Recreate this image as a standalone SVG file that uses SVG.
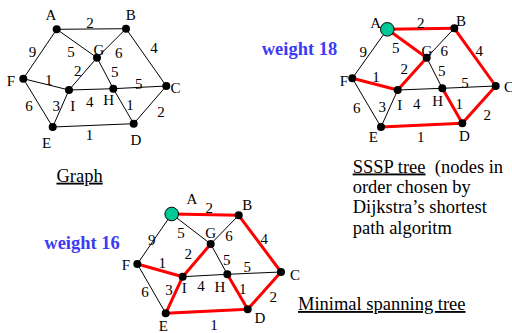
<svg xmlns="http://www.w3.org/2000/svg" width="512" height="333" viewBox="0 0 512 333" font-family="Liberation Serif">
<style>
.e{stroke:#000;stroke-width:1;fill:none}
.r{stroke:#ff0000;stroke-width:3;fill:none;stroke-linecap:round}
.n{fill:#000}
.s{fill:#00c896;stroke:#000;stroke-width:1}
text{font-family:'Liberation Serif',serif;fill:#000}
.l{font-size:15px;text-anchor:middle}
.w{font-size:18.5px;font-weight:bold;fill:#3b3bf5}
.t{font-size:18.5px}
.u{text-decoration:underline}
</style>
<rect width="512" height="333" fill="#fff"/>

<!-- Graph 1 -->
<g id="graph1">
<g id="g1-edges">
<line class="e" x1="56.7" y1="29.3" x2="126" y2="28.7"/>
<line class="e" x1="56.7" y1="29.3" x2="23.3" y2="78.7"/>
<line class="e" x1="56.7" y1="29.3" x2="97" y2="57.7"/>
<line class="e" x1="97" y1="57.7" x2="126" y2="28.7"/>
<line class="e" x1="126" y1="28.7" x2="166.3" y2="86"/>
<line class="e" x1="23.3" y1="78.7" x2="69" y2="90"/>
<line class="e" x1="69" y1="90" x2="97" y2="57.7"/>
<line class="e" x1="97" y1="57.7" x2="113.3" y2="88.7"/>
<line class="e" x1="113.3" y1="88.7" x2="166.3" y2="86"/>
<line class="e" x1="23.3" y1="78.7" x2="52.7" y2="127"/>
<line class="e" x1="52.7" y1="127" x2="69" y2="90"/>
<line class="e" x1="69" y1="90" x2="113.3" y2="88.7"/>
<line class="e" x1="113.3" y1="88.7" x2="133.7" y2="123.7"/>
<line class="e" x1="133.7" y1="123.7" x2="166.3" y2="86"/>
<line class="e" x1="52.7" y1="127" x2="133.7" y2="123.7"/>
</g>
<g id="g1-weights" class="l">
<text x="90" y="28">2</text>
<text x="32.5" y="57">9</text>
<text x="71" y="57">5</text>
<text x="118.7" y="58">6</text>
<text x="154" y="53.3">4</text>
<text x="48.7" y="85">1</text>
<text x="77.8" y="76">2</text>
<text x="114.7" y="76.7">5</text>
<text x="138.8" y="89.3">5</text>
<text x="29" y="111">6</text>
<text x="56.3" y="111">3</text>
<text x="89.7" y="106.7">4</text>
<text x="130" y="110">1</text>
<text x="161" y="116.7">2</text>
<text x="89.5" y="140">1</text>
</g>
<g id="g1-A"><circle class="n" cx="56.7" cy="29.3" r="4"/><text class="l" x="51" y="20">A</text></g>
<g id="g1-B"><circle class="n" cx="126" cy="28.7" r="4"/><text class="l" x="130.7" y="20">B</text></g>
<g id="g1-G"><circle class="n" cx="97" cy="57.7" r="4"/><text class="l" x="99" y="54.5">G</text></g>
<g id="g1-F"><circle class="n" cx="23.3" cy="78.7" r="4"/><text class="l" x="11" y="86">F</text></g>
<g id="g1-I"><circle class="n" cx="69" cy="90" r="4"/><text class="l" x="72.7" y="111">I</text></g>
<g id="g1-H"><circle class="n" cx="113.3" cy="88.7" r="4"/><text class="l" x="108.7" y="105">H</text></g>
<g id="g1-C"><circle class="n" cx="166.3" cy="86" r="4"/><text class="l" x="175.5" y="93">C</text></g>
<g id="g1-E"><circle class="n" cx="52.7" cy="127" r="4"/><text class="l" x="46.7" y="148">E</text></g>
<g id="g1-D"><circle class="n" cx="133.7" cy="123.7" r="4"/><text class="l" x="136" y="145">D</text></g>
</g>
<text class="t u" x="56.5" y="181.7">Graph</text>

<!-- Graph 2: SSSP -->
<g id="graph2">
<g id="g2-edges">
<line class="e" x1="387.3" y1="29.3" x2="352.3" y2="78.3"/>
<line class="e" x1="426.7" y1="57.7" x2="454.3" y2="28.3"/>
<line class="e" x1="426.7" y1="57.7" x2="442.3" y2="88.3"/>
<line class="e" x1="397.7" y1="90" x2="442.3" y2="88.3"/>
<line class="e" x1="442.3" y1="88.3" x2="495.7" y2="86"/>
<line class="e" x1="352.3" y1="78.3" x2="381" y2="127"/>
<line class="e" x1="381" y1="127" x2="397.7" y2="90"/>
<line class="r" x1="387.3" y1="29.3" x2="454.3" y2="28.3"/>
<line class="r" x1="387.3" y1="29.3" x2="426.7" y2="57.7"/>
<line class="r" x1="426.7" y1="57.7" x2="397.7" y2="90"/>
<line class="r" x1="397.7" y1="90" x2="352.3" y2="78.3"/>
<line class="r" x1="454.3" y1="28.3" x2="495.7" y2="86"/>
<line class="r" x1="495.7" y1="86" x2="462.3" y2="123.3"/>
<line class="r" x1="462.3" y1="123.3" x2="381" y2="127"/>
<line class="r" x1="442.3" y1="88.3" x2="462.3" y2="123.3"/>
</g>
<g id="g2-weights" class="l">
<text x="420.7" y="28.3">2</text>
<text x="363.3" y="56.7">9</text>
<text x="395.7" y="53.3">5</text>
<text x="444.3" y="55.7">6</text>
<text x="479.3" y="55.7">4</text>
<text x="376" y="81.7">1</text>
<text x="404.3" y="74.3">2</text>
<text x="441.7" y="76">5</text>
<text x="465" y="88.3">5</text>
<text x="356.7" y="113.3">6</text>
<text x="382.3" y="111.7">3</text>
<text x="416.7" y="109">4</text>
<text x="459.3" y="109">1</text>
<text x="487.3" y="120">2</text>
<text x="420.7" y="141.7">1</text>
</g>
<g id="g2-A"><circle class="s" cx="387.3" cy="29.3" r="6.8"/><text class="l" x="375.7" y="28">A</text></g>
<g id="g2-B"><circle class="n" cx="454.3" cy="28.3" r="4"/><text class="l" x="461" y="25.5">B</text></g>
<g id="g2-G"><circle class="n" cx="426.7" cy="57.7" r="4"/><text class="l" x="427" y="55.5">G</text></g>
<g id="g2-F"><circle class="n" cx="352.3" cy="78.3" r="4"/><text class="l" x="343.8" y="85.5">F</text></g>
<g id="g2-I"><circle class="n" cx="397.7" cy="90" r="4"/><text class="l" x="399.7" y="109.7">I</text></g>
<g id="g2-H"><circle class="n" cx="442.3" cy="88.3" r="4"/><text class="l" x="437.7" y="105.5">H</text></g>
<g id="g2-C"><circle class="n" cx="495.7" cy="86" r="4"/><text class="l" x="509" y="92.3">C</text></g>
<g id="g2-E"><circle class="n" cx="381" cy="127" r="4"/><text class="l" x="373.3" y="142">E</text></g>
<g id="g2-D"><circle class="n" cx="462.3" cy="123.3" r="4"/><text class="l" x="464.3" y="141.3">D</text></g>
</g>
<text class="w" x="261.7" y="55">weight 18</text>
<g id="sssp-caption" class="t">
<text x="352.7" y="172.5" xml:space="preserve"><tspan class="u">SSSP tree</tspan>  (nodes in</text>
<text x="352.7" y="193">order chosen by</text>
<text x="352.7" y="213.3">Dijkstra’s shortest</text>
<text x="352.7" y="233.5">path algoritm</text>
</g>

<!-- Graph 3: MST -->
<g id="graph3">
<g id="g3-edges">
<line class="e" x1="171.7" y1="214" x2="137.3" y2="264"/>
<line class="e" x1="171.7" y1="214" x2="210.7" y2="244"/>
<line class="e" x1="210.7" y1="244" x2="238.7" y2="215.3"/>
<line class="e" x1="210.7" y1="244" x2="227.3" y2="274.3"/>
<line class="e" x1="182.7" y1="276.7" x2="227.3" y2="274.3"/>
<line class="e" x1="227.3" y1="274.3" x2="281" y2="272"/>
<line class="e" x1="137.3" y1="264" x2="165.7" y2="313.3"/>
<line class="r" x1="171.7" y1="214" x2="238.7" y2="215.3"/>
<line class="r" x1="238.7" y1="215.3" x2="281" y2="272"/>
<line class="r" x1="281" y1="272" x2="247.7" y2="309.3"/>
<line class="r" x1="247.7" y1="309.3" x2="165.7" y2="313.3"/>
<line class="r" x1="165.7" y1="313.3" x2="182.7" y2="276.7"/>
<line class="r" x1="182.7" y1="276.7" x2="210.7" y2="244"/>
<line class="r" x1="182.7" y1="276.7" x2="137.3" y2="264"/>
<line class="r" x1="227.3" y1="274.3" x2="247.7" y2="309.3"/>
</g>
<g id="g3-weights" class="l">
<text x="209.3" y="213.3">2</text>
<text x="151.7" y="245">9</text>
<text x="181" y="238.3">5</text>
<text x="229" y="241">6</text>
<text x="264.3" y="243.7">4</text>
<text x="162.3" y="267.7">1</text>
<text x="188.3" y="259.3">2</text>
<text x="226.7" y="265">5</text>
<text x="247.3" y="272.3">5</text>
<text x="145" y="296.7">6</text>
<text x="169" y="295">3</text>
<text x="201" y="290.7">4</text>
<text x="242.7" y="294.3">1</text>
<text x="273.3" y="301.7">2</text>
<text x="214" y="330">1</text>
</g>
<g id="g3-A"><circle class="s" cx="171.7" cy="214" r="6.8"/><text class="l" x="192" y="203.7">A</text></g>
<g id="g3-B"><circle class="n" cx="238.7" cy="215.3" r="4"/><text class="l" x="247.3" y="210">B</text></g>
<g id="g3-G"><circle class="n" cx="210.7" cy="244" r="4"/><text class="l" x="210.7" y="237.7">G</text></g>
<g id="g3-F"><circle class="n" cx="137.3" cy="264" r="4"/><text class="l" x="126" y="270.3">F</text></g>
<g id="g3-I"><circle class="n" cx="182.7" cy="276.7" r="4"/><text class="l" x="184.3" y="293.3">I</text></g>
<g id="g3-H"><circle class="n" cx="227.3" cy="274.3" r="4"/><text class="l" x="220" y="291.7">H</text></g>
<g id="g3-C"><circle class="n" cx="281" cy="272" r="4"/><text class="l" x="295" y="280">C</text></g>
<g id="g3-E"><circle class="n" cx="165.7" cy="313.3" r="4"/><text class="l" x="163.3" y="331">E</text></g>
<g id="g3-D"><circle class="n" cx="247.7" cy="309.3" r="4"/><text class="l" x="260" y="323.3">D</text></g>
</g>
<text class="w" x="44.3" y="249.3">weight 16</text>
<text class="t u" x="298" y="310">Minimal spanning tree</text>
</svg>
